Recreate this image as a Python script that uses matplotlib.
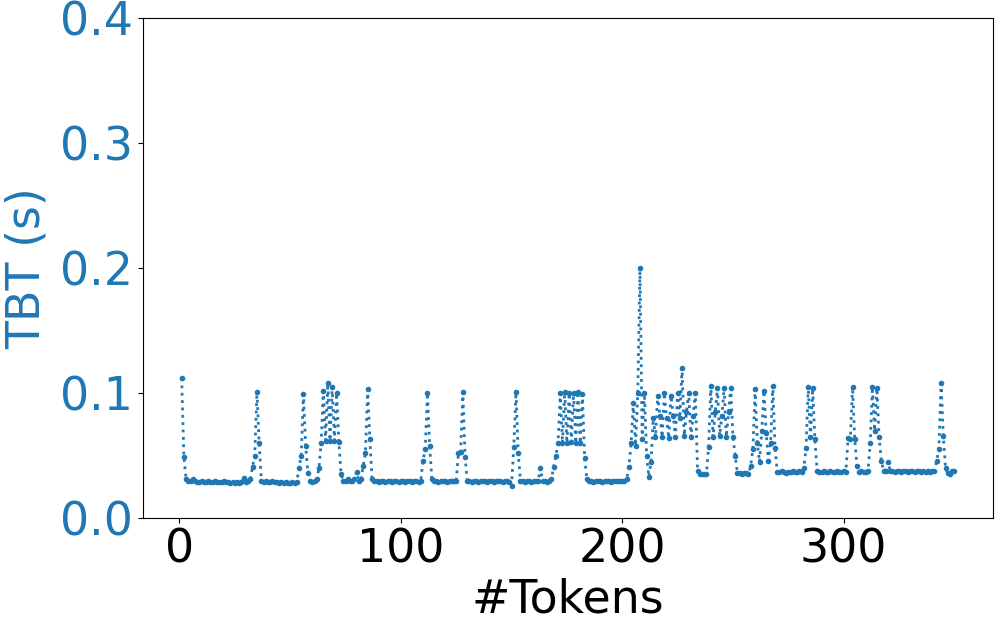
import matplotlib.pyplot as plt

# TBT por token (s), tokens 1..350
tbt_1_50 = [0.112, 0.049, 0.031, 0.030, 0.030, 0.031, 0.030, 0.029, 0.029, 0.030,
            0.029, 0.029, 0.030, 0.029, 0.029, 0.030, 0.029, 0.029, 0.029, 0.030,
            0.029, 0.029, 0.028, 0.029, 0.028, 0.029, 0.028, 0.029, 0.032, 0.029,
            0.030, 0.031, 0.041, 0.050, 0.101, 0.060, 0.030, 0.029, 0.030, 0.029,
            0.029, 0.030, 0.029, 0.029, 0.028, 0.029, 0.028, 0.029, 0.028, 0.028]
tbt_51_100 = [0.029, 0.028, 0.029, 0.040, 0.050, 0.099, 0.058, 0.036, 0.030, 0.029,
              0.030, 0.031, 0.040, 0.060, 0.102, 0.062, 0.108, 0.062, 0.105, 0.062,
              0.100, 0.061, 0.035, 0.030, 0.030, 0.031, 0.030, 0.030, 0.031, 0.037,
              0.030, 0.031, 0.042, 0.052, 0.103, 0.063, 0.031, 0.030, 0.030, 0.029,
              0.030, 0.030, 0.029, 0.030, 0.030, 0.029, 0.030, 0.030, 0.029, 0.030]
tbt_101_150 = [0.030, 0.029, 0.030, 0.030, 0.029, 0.030, 0.030, 0.029, 0.030, 0.046,
               0.055, 0.100, 0.058, 0.031, 0.030, 0.030, 0.029, 0.030, 0.030, 0.030,
               0.029, 0.030, 0.030, 0.030, 0.030, 0.052, 0.053, 0.101, 0.049, 0.030,
               0.030, 0.029, 0.030, 0.030, 0.029, 0.030, 0.030, 0.030, 0.029, 0.030,
               0.030, 0.029, 0.030, 0.030, 0.030, 0.029, 0.030, 0.030, 0.029, 0.026]
tbt_151_200 = [0.057, 0.101, 0.052, 0.030, 0.030, 0.029, 0.030, 0.030, 0.029, 0.030,
               0.030, 0.030, 0.040, 0.030, 0.030, 0.029, 0.030, 0.031, 0.041, 0.050,
               0.060, 0.100, 0.060, 0.101, 0.060, 0.100, 0.061, 0.100, 0.060, 0.101,
               0.060, 0.099, 0.048, 0.031, 0.030, 0.030, 0.029, 0.030, 0.030, 0.030,
               0.029, 0.030, 0.030, 0.030, 0.029, 0.030, 0.030, 0.030, 0.030, 0.030]
tbt_201_250 = [0.030, 0.031, 0.041, 0.060, 0.092, 0.058, 0.100, 0.200, 0.063, 0.100,
               0.050, 0.033, 0.045, 0.080, 0.065, 0.098, 0.082, 0.065, 0.100, 0.080,
               0.064, 0.098, 0.082, 0.065, 0.100, 0.080, 0.120, 0.066, 0.085, 0.100,
               0.065, 0.082, 0.100, 0.038, 0.035, 0.035, 0.035, 0.035, 0.057, 0.106,
               0.065, 0.085, 0.104, 0.066, 0.082, 0.104, 0.065, 0.085, 0.104, 0.065]
tbt_251_300 = [0.050, 0.036, 0.036, 0.035, 0.036, 0.036, 0.035, 0.042, 0.055, 0.103,
               0.060, 0.045, 0.070, 0.102, 0.068, 0.046, 0.060, 0.106, 0.056, 0.037,
               0.037, 0.038, 0.037, 0.036, 0.037, 0.037, 0.038, 0.037, 0.037, 0.038,
               0.037, 0.040, 0.056, 0.105, 0.065, 0.104, 0.063, 0.038, 0.037, 0.037,
               0.038, 0.037, 0.037, 0.038, 0.037, 0.037, 0.038, 0.037, 0.037, 0.038]
tbt_301_350 = [0.037, 0.064, 0.063, 0.105, 0.063, 0.042, 0.037, 0.038, 0.037, 0.037,
               0.038, 0.060, 0.105, 0.070, 0.104, 0.065, 0.046, 0.038, 0.038, 0.045,
               0.038, 0.038, 0.037, 0.038, 0.038, 0.037, 0.038, 0.038, 0.037, 0.038,
               0.038, 0.037, 0.038, 0.038, 0.037, 0.038, 0.037, 0.038, 0.037, 0.038,
               0.038, 0.046, 0.055, 0.108, 0.066, 0.040, 0.036, 0.035, 0.038, 0.038]

tbt = tbt_1_50 + tbt_51_100 + tbt_101_150 + tbt_151_200 + tbt_201_250 + tbt_251_300 + tbt_301_350
tokens = list(range(1, len(tbt) + 1))

azul = 'tab:blue'

fig = plt.figure(figsize=(9.96, 6.25), dpi=100)
ax = fig.add_subplot(111)
fig.subplots_adjust(left=0.1436, right=0.997, top=0.971, bottom=0.171)

ax.plot(tokens, tbt, linestyle=':', marker='.', markersize=6, linewidth=2, color=azul)
ax.set_ylim(0, 0.4)
ax.set_yticks([0.0, 0.1, 0.2, 0.3, 0.4])
ax.set_xticks([0, 100, 200, 300])

ax.set_xlabel('#Tokens', fontsize=33, labelpad=3)
ax.set_ylabel('TBT (s)', fontsize=33, color=azul, labelpad=8)
ax.tick_params(axis='x', labelsize=33)
ax.tick_params(axis='y', labelsize=33, labelcolor=azul)

fig.savefig('out.png', dpi=100)
